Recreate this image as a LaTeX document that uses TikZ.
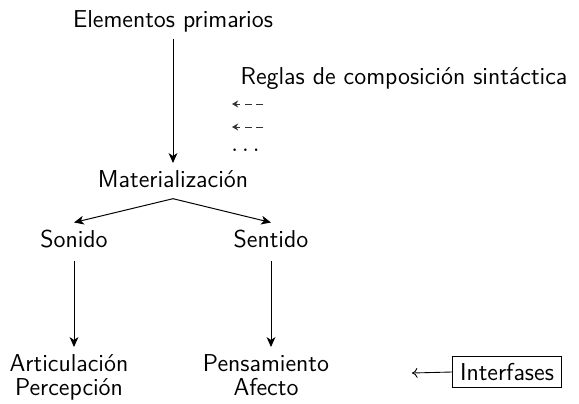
\documentclass[tikz,border=0pt]{standalone}
\usetikzlibrary{arrows.meta}
\begin{document}
\begin{tikzpicture}[x=0.4545pt,y=-0.4545pt,
  every node/.style={font=\sffamily\fontsize{11.1}{13}\selectfont},
  lbl/.style={anchor=base, inner sep=3pt},
  arr/.style={-{Stealth[length=4.5pt,width=4pt,inset=1.3pt]}, line width=0.45pt},
  darr/.style={-{Stealth[length=2.8pt,width=3.2pt]}, black!80, dash pattern=on 3pt off 2.2pt, line width=0.45pt}]
\useasboundingbox (0,0) rectangle (579,403);
\node[lbl] (ep) at (173,27) {Elementos primarios};
\node[lbl] (mat) at (173,187) {Materializaci\'on};
\node[lbl] (son) at (74,247) {Sonido};
\node[lbl] (sen) at (271,247) {Sentido};
\node[lbl] (art) at (69,371) {Articulaci\'on};
\node[lbl] (per) at (69,395) {Percepci\'on};
\node[lbl] (pen) at (266,371) {Pensamiento};
\node[lbl] (afe) at (266,395) {Afecto};
\node[draw, line width=0.45pt, inner xsep=3.5pt, inner ysep=3.3pt] (int) at (507,372) {Interfases};
\node[lbl, inner sep=0pt] (reg) at (404,84) {Reglas de composici\'on sint\'actica};
\coordinate (d1e) at (263,104);
\coordinate (d1s) at (232,104);
\coordinate (d2e) at (263,127);
\coordinate (d2s) at (232,127);
\node[lbl, inner sep=0pt, anchor=base west] (dots) at (231,151) {$\ldots$};
\coordinate (ia) at (412,373);

\draw[arr] (ep.south) -- (mat.north);
\draw[arr] ([yshift=-2pt]mat.south) -- (son.north);
\draw[arr] ([yshift=-2pt]mat.south) -- (sen.north);
\draw[arr] ([yshift=-3pt]son.south) -- (son.south |- art.north);
\draw[arr] ([yshift=-3pt]sen.south) -- (sen.south |- pen.north);
\draw[darr] (d1e) -- (d1s);
\draw[darr] (d2e) -- (d2s);
\draw[-{To[length=2.5pt,width=4.5pt]}, line width=0.4pt] (int.west) -- (ia);
\end{tikzpicture}
\end{document}
